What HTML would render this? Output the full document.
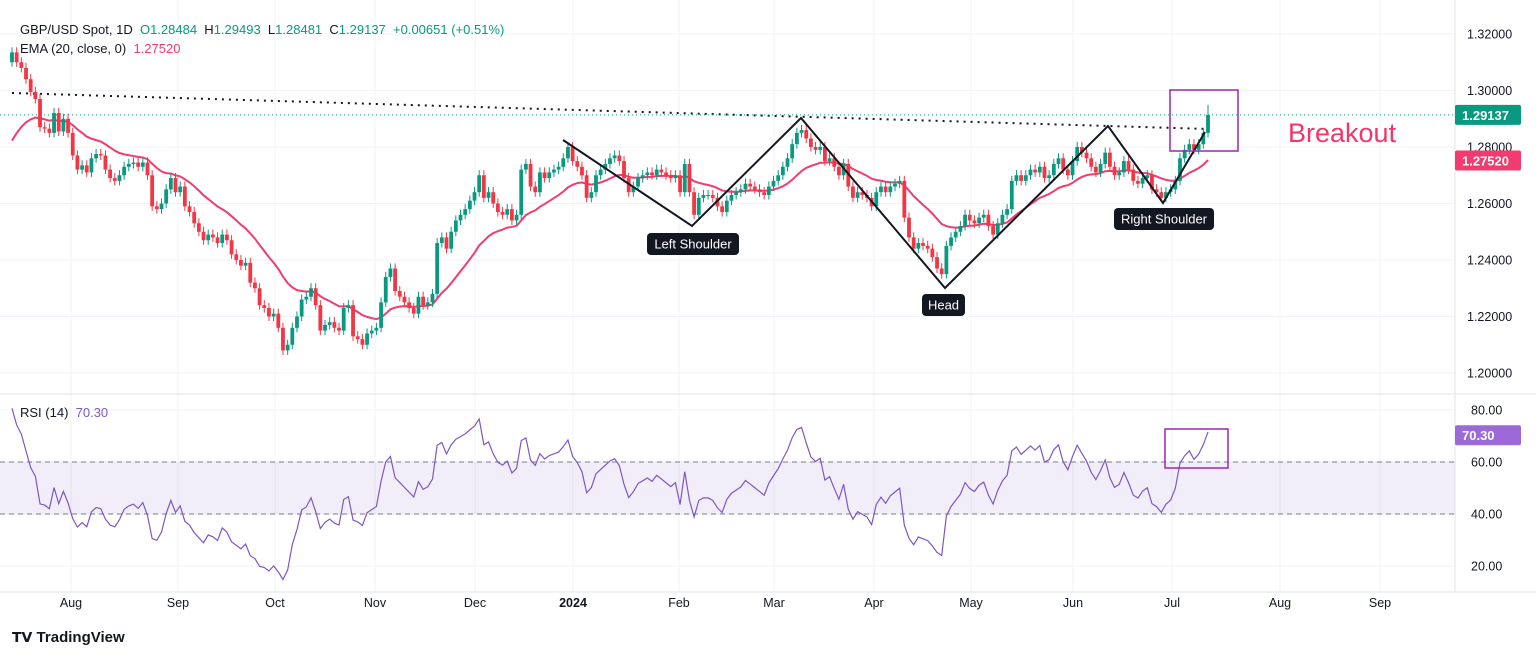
<!DOCTYPE html>
<html><head><meta charset="utf-8"><style>
body{margin:0;background:#fff;font-family:"Liberation Sans",sans-serif;}
#wrap{position:relative;width:1536px;height:658px;overflow:hidden;background:#fff}
.lbl{position:absolute;font-size:13px;color:#131722}
</style></head><body>
<div id="wrap">
<svg id="chart" width="1536" height="658"></svg>
<div class="lbl" style="left:20px;top:22px;font-size:13px">GBP/USD Spot, 1D&nbsp; <span style="color:#089981">O</span><span style="color:#089981">1.28484</span>&nbsp; H<span style="color:#089981">1.29493</span>&nbsp; L<span style="color:#089981">1.28481</span>&nbsp; C<span style="color:#089981">1.29137</span>&nbsp; <span style="color:#089981">+0.00651 (+0.51%)</span></div>
<div class="lbl" style="left:20px;top:41px">EMA (20, close, 0)&nbsp; <span style="color:#f23b6e">1.27520</span></div>
<div class="lbl" style="left:20px;top:405px">RSI (14)&nbsp; <span style="color:#7e57c2">70.30</span></div>
<div style="position:absolute;left:1288px;top:118px;font-size:27px;color:#f23669">Breakout</div>
<div style="position:absolute;left:12px;top:629px;font-size:15px;font-weight:bold;color:#131722"><span style="font-size:14px">𝗧𝗩</span> TradingView</div>
</div>
<script>
const months=["Aug","Sep","Oct","Nov","Dec","2024","Feb","Mar","Apr","May","Jun","Jul","Aug","Sep"];
const monthX=[71,178,275,375,475,573,679,774,874,971,1073,1172,1280,1380];
const priceTicks=[1.20,1.22,1.24,1.26,1.28,1.30,1.32];
const rsiTicks=[20,40,60,80];
const closes=[1.3135,1.3100,1.3080,1.3040,1.2995,1.2970,1.2870,1.2865,1.2850,1.2920,1.2855,1.2900,1.2850,
1.2770,1.2720,1.2735,1.2710,1.2760,1.2775,1.2770,1.2720,1.2690,1.2680,1.2700,1.2730,1.2740,1.2745,1.2730,1.2745,1.2700,1.2590,1.2580,1.2600,1.2650,1.2690,1.2640,
1.2660,1.2590,1.2570,1.2530,1.2500,1.2470,1.2490,1.2480,1.2460,1.2490,1.2470,1.2420,1.2400,1.2380,1.2390,1.2320,1.2300,1.2240,1.2230,1.2200,1.2210,
1.2160,1.2080,1.2100,1.2160,1.2200,1.2260,1.2270,1.2300,1.2240,1.2150,1.2170,1.2180,1.2160,1.2150,1.2230,1.2240,1.2130,1.2120,1.2100,1.2140,1.2150,1.2160,
1.2250,1.2340,1.2370,1.2290,1.2270,1.2250,1.2230,1.2210,1.2270,1.2240,1.2250,1.2280,1.2460,1.2480,1.2440,1.2500,1.2540,1.2560,1.2580,1.2610,1.2640,1.2700,
1.2620,1.2640,1.2600,1.2570,1.2560,1.2580,1.2540,1.2560,1.2720,1.2740,1.2660,1.2640,1.2710,1.2690,1.2710,1.2720,1.2730,1.2760,1.2800,1.2750,
1.2730,1.2700,1.2620,1.2640,1.2700,1.2720,1.2740,1.2760,1.2770,1.2750,1.2690,1.2640,1.2660,1.2690,1.2700,1.2710,1.2700,1.2720,1.2710,1.2700,1.2690,1.2700,
1.2640,1.2740,1.2640,1.2560,1.2620,1.2630,1.2630,1.2620,1.2590,1.2570,1.2610,1.2630,1.2640,1.2650,1.2670,1.2660,1.2650,1.2640,1.2630,1.2660,
1.2680,1.2700,1.2730,1.2760,1.2810,1.2850,1.2860,1.2830,1.2800,1.2790,1.2800,1.2750,1.2760,1.2730,1.2700,1.2740,1.2660,1.2620,1.2640,1.2630,1.2620,
1.2590,1.2640,1.2660,1.2640,1.2660,1.2670,1.2680,1.2550,1.2480,1.2440,1.2460,1.2450,1.2440,1.2410,1.2370,1.2350,1.2450,1.2480,1.2500,1.2520,1.2560,1.2540,
1.2530,1.2550,1.2560,1.2520,1.2490,1.2530,1.2560,1.2580,1.2680,1.2700,1.2680,1.2700,1.2720,1.2710,1.2730,1.2690,1.2700,1.2740,1.2760,1.2720,1.2700,1.2750,
1.2800,1.2780,1.2760,1.2730,1.2710,1.2740,1.2780,1.2730,1.2700,1.2710,1.2750,1.2720,1.2680,1.2670,1.2690,1.2700,1.2650,1.2640,1.2620,1.2640,
1.2650,1.2680,1.2760,1.2790,1.2810,1.2790,1.2810,1.2850,1.29137];
const firstOpen=1.3100;
const lastHigh=1.29493;
const lastEma=1.27520;
const lastRsi=70.30;

const NS="http://www.w3.org/2000/svg";
const svg=document.getElementById('chart');
function mk(tag,attrs,parent){const e=document.createElementNS(NS,tag);for(const k in attrs)e.setAttribute(k,attrs[k]);(parent||svg).appendChild(e);return e;}
const yP=p=>34+(1.32-p)/0.02*56.5;
const yR=r=>410+(80-r)/20*52;
const x0=12,x1=1208;
const xB=i=>x0+(x1-x0)*i/(closes.length-1);

monthX.forEach(x=>{const l=mk('line',{x1:x,x2:x,y1:0,y2:592,stroke:'#f0f3fa'});});
priceTicks.forEach(p=>{const l=mk('line',{x1:0,x2:1455,y1:yP(p),y2:yP(p),stroke:'#f0f3fa'});});
rsiTicks.forEach(r=>{const l=mk('line',{x1:0,x2:1455,y1:yR(r),y2:yR(r),stroke:'#f0f3fa'});});
mk('line',{x1:0,x2:1536,y1:394,y2:394,stroke:'#e0e3eb'});
mk('line',{x1:0,x2:1536,y1:592,y2:592,stroke:'#e0e3eb'});
mk('line',{x1:1455,x2:1455,y1:0,y2:592,stroke:'#e0e3eb'});

const band=mk('rect',{x:0,y:yR(60),width:1455,height:yR(40)-yR(60),fill:'#7e57c2','fill-opacity':0.1});

[60,40].forEach(r=>{const l=mk('line',{x1:0,x2:1455,y1:yR(r),y2:yR(r),stroke:'#787b86','stroke-dasharray':'5,4'});});

const tl=mk('line',{x1:12,y1:93,x2:1208,y2:129,stroke:'#131722','stroke-width':2,'stroke-dasharray':'2,5'});

const lp=closes[closes.length-1];
const pl=mk('line',{x1:0,x2:1455,y1:yP(lp),y2:yP(lp),stroke:'#089981','stroke-dasharray':'1,3'});


let ema=1.279;const emaV=[];const k=2/21;
closes.forEach(c=>{ema=c*k+ema*(1-k);emaV.push(ema);});
const ep=mk('polyline',{points:emaV.map((v,i)=>xB(i)+','+yP(v)).join(' '),fill:'none',stroke:'#f23b6e','stroke-width':2});


const cg=mk('g',{});
closes.forEach((c,i)=>{
  const o=i===0?firstOpen:closes[i-1];
  const up=c>=o;const col=up?'#089981':'#f23645';
  const hi=i===closes.length-1?lastHigh:Math.max(o,c)+0.0018;
  const lo=Math.min(o,c)-0.0016;
  const x=xB(i);
  const w=mk('line',{x1:x,x2:x,y1:yP(hi),y2:yP(lo),stroke:col,'stroke-width':1},cg);
  
  const t=Math.min(yP(o),yP(c));const h=Math.max(1,Math.abs(yP(o)-yP(c)));
  const b=mk('rect',{x:x-1.9,y:t,width:3.8,height:h,fill:col},cg);
  
});

let ag=0.0025,al=0.0006;const rsiV=[];
closes.forEach((c,i)=>{if(i>0){const d=c-closes[i-1];ag=(ag*13+Math.max(d,0))/14;al=(al*13+Math.max(-d,0))/14;}rsiV.push(100-100/(1+ag/al));});
const rp=mk('polyline',{points:rsiV.map((v,i)=>xB(i)+','+yR(v)).join(' '),fill:'none',stroke:'#7e57c2','stroke-width':1.2});


const pat=mk('polyline',{points:'563,140 692,226 801,118 945,288 1108,126 1163,203 1205,132',fill:'none',stroke:'#131722','stroke-width':2});

const bx=mk('rect',{x:1170,y:90,width:68,height:61,fill:'none',stroke:'#9c27b0','stroke-width':1.5});

const rb=mk('rect',{x:1165,y:429,width:63,height:39,fill:'none',stroke:'#9c27b0','stroke-width':1.5});


function tag(x,y,w,text,name){
  const g=mk('g',{});
  mk('rect',{x:x,y:y,width:w,height:22,rx:4,fill:'#131722'},g);
  const t=mk('text',{x:x+w/2,y:y+15.5,'text-anchor':'middle',fill:'#fff','font-size':13,'font-family':'Liberation Sans'},g);t.textContent=text;
}
tag(647,233,92,'Left Shoulder','left-shoulder-label');
tag(922,294,43,'Head','head-label');
tag(1114,208,100,'Right Shoulder','right-shoulder-label');

priceTicks.forEach(p=>{const t=mk('text',{x:1467,y:yP(p)+4.5,'font-size':12.5,fill:'#131722','font-family':'Liberation Sans'});t.textContent=p.toFixed(5);});
rsiTicks.forEach(r=>{const t=mk('text',{x:1471,y:yR(r)+4.5,'font-size':12.5,fill:'#131722','font-family':'Liberation Sans'});t.textContent=r.toFixed(2);});
months.forEach((m,i)=>{const t=mk('text',{x:monthX[i],y:607,'text-anchor':'middle','font-size':12.5,fill:'#131722','font-family':'Liberation Sans','font-weight':m==='2024'?'bold':'normal'});t.textContent=m;});

function ptag(y,col,text,name){const g=mk('g',{});
  mk('rect',{x:1455,y:y-10,width:66,height:20,rx:2,fill:col},g);
  const t=mk('text',{x:1462,y:y+5,'font-size':13,'font-weight':'bold',fill:'#fff','font-family':'Liberation Sans'},g);t.textContent=text;}
ptag(yP(lp),'#089981',lp.toFixed(5),'last-price-tag');
ptag(yP(lastEma),'#f23b6e',lastEma.toFixed(5),'ema-price-tag');
ptag(yR(lastRsi),'#9c6ad8',lastRsi.toFixed(2),'rsi-value-tag');
</script>
</body></html>
